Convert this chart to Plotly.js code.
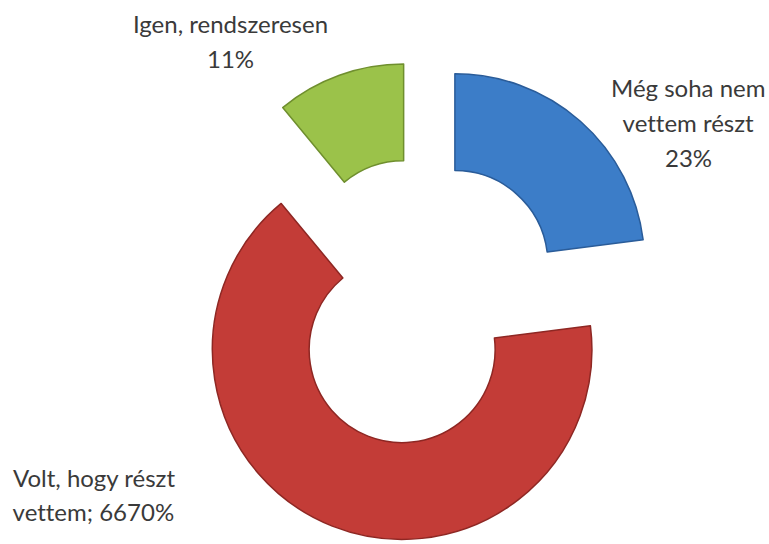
<!DOCTYPE html>
<html>
<head>
<meta charset="utf-8">
<script src="https://cdn.plot.ly/plotly-3.0.1.min.js"></script>
<style>html,body{margin:0;padding:0;background:#fff;}#chart{width:769px;height:544px;}#chart svg text, #chart svg tspan{font-variant-ligatures:none !important;font-feature-settings:"liga" 0, "clig" 0 !important;}</style>
</head>
<body>
<div id="chart"></div>
<script>
// Data
const categories = ['Még soha nem vettem részt', 'Volt, hogy részt vettem', 'Igen, rendszeresen'];
const values = [23, 66, 11];
const labelLines = [
  ['Még soha nem', 'vettem részt', '23%'],
  ['Volt, hogy részt', 'vettem; 6670%'],
  ['Igen, rendszeresen', '11%']
];

// Styles
const fillColors = ['#3C7DC8', '#C33C37', '#9BC24A'];
const edgeColors = ['#2A5C99', '#8E2723', '#6F8F2E'];
// label placement (paper px): [x, first line y, anchor]
const labelPos = [
  {x: 688, y: 88, anchor: 'center'},
  {x: 11, y: 477, anchor: 'left'},
  {x: 230, y: 24, anchor: 'center'}
];
const lineGap = 34.5;
const W = 769, H = 544;

const annotations = [];
labelLines.forEach((lines, i) => {
  lines.forEach((t, j) => {
    annotations.push({
      text: t, showarrow: false, xref: 'paper', yref: 'paper',
      x: labelPos[i].x / W, y: 1 - (labelPos[i].y + j * lineGap) / H,
      xanchor: labelPos[i].anchor, yanchor: 'middle',
      font: {family: 'Lato, "Open Sans", sans-serif', size: 24, color: '#3a3a3a'}
    });
  });
});

const cx = 421, cy = 302, half = 241;
const trace = {
  type: 'pie',
  labels: categories,
  values: values,
  sort: false,
  direction: 'clockwise',
  rotation: 0,
  hole: 0.49,
  pull: [0.27, 0.27, 0.27],
  textinfo: 'none',
  hoverinfo: 'none',
  marker: {colors: fillColors, line: {color: edgeColors, width: 1.5}},
  domain: {x: [(cx - 300) / W, (cx + 300) / W], y: [(H - cy - half) / H, (H - cy + half) / H]}
};

const layout = {
  width: W, height: H,
  margin: {l: 0, r: 0, t: 0, b: 0},
  showlegend: false,
  paper_bgcolor: '#ffffff',
  annotations: annotations
};

Plotly.newPlot('chart', [trace], layout, {displayModeBar: false, staticPlot: true});
</script>
</body>
</html>
